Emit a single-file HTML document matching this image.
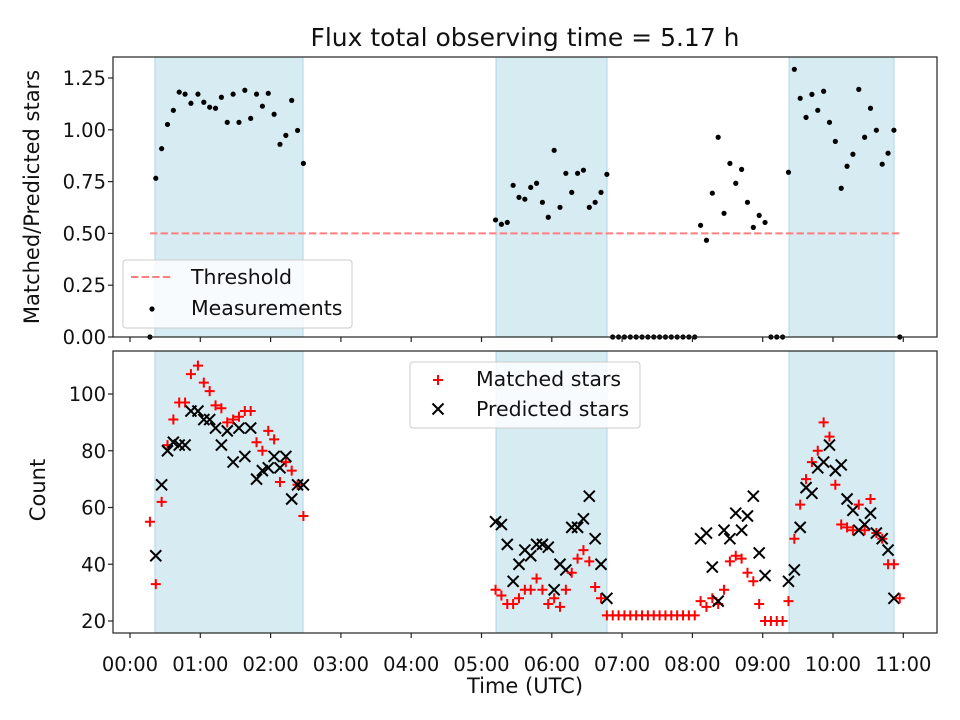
<!DOCTYPE html>
<html><head><meta charset="utf-8"><style>
body{margin:0;background:#fff}
svg{display:block;font-family:"DejaVu Sans","Liberation Sans",sans-serif}
</style></head><body>
<svg id="chart" width="960" height="720" viewBox="0 0 960 720" xmlns="http://www.w3.org/2000/svg"></svg>
<script>
// ---- data (times in minutes since 00:00 UTC) ----
const timesMin = [17,22,27,32,37,42,47,52,58,63,68,73,78,83,88,93,98,103,108,113,118,123,128,133,138,143,148,
 312,317,322,327,332,337,342,347,352,357,362,367,372,377,382,387,392,397,402,407,
 412,417,422,427,432,437,442,447,452,457,462,467,472,477,482,
 487,492,497,502,507,512,517,522,527,532,537,542,
 547,552,557,
 562,567,572,577,582,587,592,597,602,607,612,617,622,627,632,637,642,647,652,657];
const ratioValues = [0,0.766,0.909,1.026,1.094,1.182,1.172,1.128,1.172,1.133,1.109,1.104,1.157,1.036,1.172,1.036,1.191,1.055,1.172,1.114,1.176,1.075,0.930,0.973,1.142,0.997,0.838,
 0.565,0.544,0.553,0.732,0.674,0.665,0.722,0.742,0.650,0.578,0.901,0.626,0.790,0.698,0.790,0.805,0.626,0.650,0.698,0.785,
 0,0,0,0,0,0,0,0,0,0,0,0,0,0,0,
 0.539,0.467,0.694,0.964,0.597,0.838,0.742,0.809,0.650,0.529,0.587,0.553,
 0,0,0,
 0.795,1.292,1.152,1.060,1.171,1.094,1.186,1.036,0.944,0.718,0.824,0.882,1.195,0.964,1.104,0.998,0.834,0.887,0.998,0];
const matchedValues = [55,33,62,82,91,97,97,107,110,104,101,96,95,90,91,92,94,94,83,80,87,84,69,76,73,68,57,
 31,29,26,26,28,31,31,35,31,26,28,25,31,37,42,45,41,32,28,22,
 22,22,22,22,22,22,22,22,22,22,22,22,22,22,22,
 27,25,28,26,31,41,43,42,37,34,26,20,
 20,20,20,
 27,49,61,70,76,80,90,85,68,54,53,52,61,52,63,51,49,40,40,28];
const predictedValues = [null,43,68,80,83,82,82,94,94,91,91,88,82,87,76,88,78,88,70,73,74,78,74,78,63,68,68,
 55,54,47,34,40,45,43,47,47,46,31,40,38,53,53,56,64,49,40,28,
 null,null,null,null,null,null,null,null,null,null,null,null,null,null,null,
 49,51,39,27,52,49,58,52,57,64,44,36,
 null,null,null,
 34,38,53,67,65,74,76,82,73,75,63,59,52,54,58,51,49,45,28,null];
const spanStarts = [21.3,312.4,562.5];
const spanEnds = [147.7,407.1,652.1];
const threshold = 0.5;
const thresholdStart = 17, thresholdEnd = 657;
const xTickHours = [0,1,2,3,4,5,6,7,8,9,10,11];
const topTicks = [0,0.25,0.5,0.75,1.0,1.25];
const topTickLabels = ["0.00","0.25","0.50","0.75","1.00","1.25"];
const botTicks = [20,40,60,80,100];

// ---- layout ----
const NS = "http://www.w3.org/2000/svg";
const svg = document.getElementById('chart');
const L = 113, R = 937;
const topP = {y0:57, y1:337}, botP = {y0:351, y1:633};
const xs = m => 130 + m * 70.3 / 60;
const yTop = v => 337 - v * 207.2;
const yBot = c => 621 - (c - 20) * 2.8375;
const TICK_FS = 19.5;
function el(tag, attrs, parent){ const e=document.createElementNS(NS,tag); for(const k in attrs) e.setAttribute(k,attrs[k]); (parent||svg).appendChild(e); return e; }
function txt(s, attrs, parent){ const t=el('text',attrs,parent); t.textContent=s; return t; }

const gTop = el('g',{});


const gBot = el('g',{});



// spans
[[gTop,topP],[gBot,botP]].forEach(([g,p])=>{
  for(let i=0;i<spanStarts.length;i++){
    const r = el('rect',{x:xs(spanStarts[i]),y:p.y0,width:xs(spanEnds[i])-xs(spanStarts[i]),height:p.y1-p.y0,fill:'#add8e6','fill-opacity':0.5,stroke:'#add8e6','stroke-width':1},g);
    
    
  }
});

// threshold
const th = el('line',{x1:xs(thresholdStart),x2:xs(thresholdEnd),y1:yTop(threshold),y2:yTop(threshold),stroke:'#ff7f7f','stroke-width':2,'stroke-dasharray':'7.4,3.2'},gTop);



// measurements
for(let i=0;i<timesMin.length;i++){
  const c = el('circle',{cx:xs(timesMin[i]),cy:yTop(ratioValues[i]),r:2.6,fill:'#000'},gTop);
  
  
}
// matched / predicted
for(let i=0;i<timesMin.length;i++){
  const x=xs(timesMin[i]);
  if(matchedValues[i]!=null){
    const y=yBot(matchedValues[i]);
    const p = el('path',{d:`M${x-5},${y}H${x+5}M${x},${y-5}V${y+5}`,stroke:'#ff0000','stroke-width':2,fill:'none'},gBot);
    
    
  }
  if(predictedValues[i]!=null){
    const y=yBot(predictedValues[i]);
    const p = el('path',{d:`M${x-5.5},${y-5.5}L${x+5.5},${y+5.5}M${x-5.5},${y+5.5}L${x+5.5},${y-5.5}`,stroke:'#000','stroke-width':2,fill:'none'},gBot);
    
    
  }
}

// axes frames
[[gTop,topP],[gBot,botP]].forEach(([g,p])=>{
  const f = el('rect',{x:L,y:p.y0,width:R-L,height:p.y1-p.y0,fill:'none',stroke:'#222','stroke-width':1.2},g);
  
  
  xTickHours.forEach(h=>{
    const x=xs(h*60);
    el('line',{x1:x,x2:x,y1:p.y1,y2:p.y1+5,stroke:'#222','stroke-width':1.2},g);
  });
});
xTickHours.forEach(h=>{
  const t = txt(String(h).padStart(2,'0')+':00',{x:xs(h*60),y:671,'font-size':TICK_FS,'text-anchor':'middle',fill:'#111'});
  
  
});
topTicks.forEach((v,i)=>{
  const y=yTop(v);
  el('line',{x1:L-5,x2:L,y1:y,y2:y,stroke:'#222','stroke-width':1.2},gTop);
  const t = txt(topTickLabels[i],{x:L-7,y:y+7,'font-size':TICK_FS,'text-anchor':'end',fill:'#111'},gTop);
  
  
});
botTicks.forEach(v=>{
  const y=yBot(v);
  el('line',{x1:L-5,x2:L,y1:y,y2:y,stroke:'#222','stroke-width':1.2},gBot);
  const t = txt(String(v),{x:L-7,y:y+7,'font-size':TICK_FS,'text-anchor':'end',fill:'#111'},gBot);
  
  
});

// titles
const title = txt('Flux total observing time = 5.17 h',{x:525,y:46,'font-size':25,'text-anchor':'middle',fill:'#111'});


const xl = txt('Time (UTC)',{x:525,y:693,'font-size':21,'text-anchor':'middle',fill:'#111'});


const yl1 = txt('Matched/Predicted stars',{x:0,y:0,'font-size':21,'text-anchor':'middle',fill:'#111',transform:'translate(39,197) rotate(-90)'});


const yl2 = txt('Count',{x:0,y:0,'font-size':21,'text-anchor':'middle',fill:'#111',transform:'translate(45,490) rotate(-90)'});



// legends
const lg1 = el('g',{});


el('rect',{x:123,y:260,width:229,height:68,rx:3,fill:'#fff','fill-opacity':0.8,stroke:'#ccc','stroke-width':1},lg1);
el('line',{x1:131,x2:173,y1:277,y2:277,stroke:'#ff7f7f','stroke-width':2,'stroke-dasharray':'7.4,3.2'},lg1);
const e1 = txt('Threshold',{x:191,y:284,'font-size':20.5,fill:'#111'},lg1);


el('circle',{cx:152,cy:309,r:2.6,fill:'#000'},lg1);
const e2 = txt('Measurements',{x:191,y:315,'font-size':20.5,fill:'#111'},lg1);



const lg2 = el('g',{});


el('rect',{x:410,y:362,width:230,height:66,rx:3,fill:'#fff','fill-opacity':0.8,stroke:'#ccc','stroke-width':1},lg2);
el('path',{d:'M433,380H443M438,375V385',stroke:'#ff0000','stroke-width':2,fill:'none'},lg2);
const e3 = txt('Matched stars',{x:476,y:386,'font-size':20.5,fill:'#111'},lg2);


el('path',{d:'M432.5,403.5L443.5,414.5M432.5,414.5L443.5,403.5',stroke:'#000','stroke-width':2,fill:'none'},lg2);
const e4 = txt('Predicted stars',{x:476,y:416,'font-size':20.5,fill:'#111'},lg2);


</script>
</body></html>
